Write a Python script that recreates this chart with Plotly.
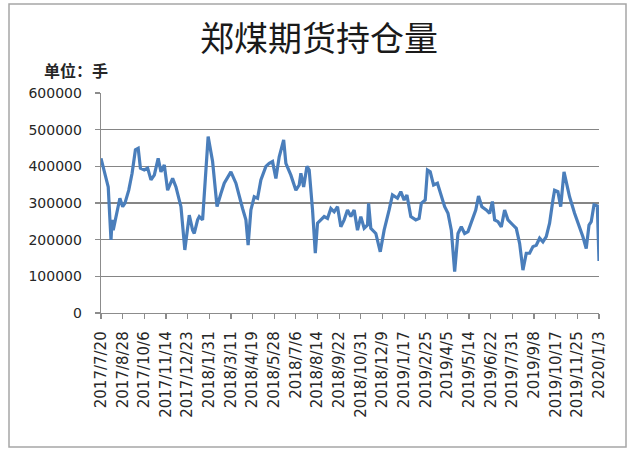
import plotly.graph_objects as go
import pandas as pd

# ---- data ----
dates = [
    "2017-07-20", "2017-07-25", "2017-08-02", "2017-08-07", "2017-08-09", "2017-08-11", "2017-08-18", "2017-08-23", "2017-08-28", "2017-09-01",
    "2017-09-08", "2017-09-14", "2017-09-20", "2017-09-25", "2017-09-29", "2017-10-06", "2017-10-12", "2017-10-18", "2017-10-24", "2017-10-31",
    "2017-11-05", "2017-11-11", "2017-11-17", "2017-11-26", "2017-12-02", "2017-12-11", "2017-12-18", "2017-12-26", "2018-01-01", "2018-01-04",
    "2018-01-10", "2018-01-13", "2018-01-19", "2018-01-25", "2018-01-29", "2018-02-06", "2018-02-14", "2018-02-21", "2018-02-27", "2018-03-11",
    "2018-03-20", "2018-04-01", "2018-04-07", "2018-04-11", "2018-04-16", "2018-04-22", "2018-04-28", "2018-05-04", "2018-05-13", "2018-05-19",
    "2018-05-25", "2018-05-31", "2018-06-06", "2018-06-14", "2018-06-18", "2018-06-27", "2018-07-06", "2018-07-12", "2018-07-15", "2018-07-20",
    "2018-07-26", "2018-07-30", "2018-08-05", "2018-08-10", "2018-08-14", "2018-08-20", "2018-08-26", "2018-09-01", "2018-09-07", "2018-09-13",
    "2018-09-19", "2018-09-25", "2018-10-01", "2018-10-07", "2018-10-13", "2018-10-19", "2018-10-25", "2018-10-31", "2018-11-06", "2018-11-12",
    "2018-11-14", "2018-11-18", "2018-11-27", "2018-12-05", "2018-12-12", "2018-12-21", "2018-12-27", "2019-01-05", "2019-01-11", "2019-01-17",
    "2019-01-22", "2019-01-29", "2019-02-07", "2019-02-13", "2019-02-17", "2019-02-24", "2019-02-28", "2019-03-05", "2019-03-11", "2019-03-18",
    "2019-03-25", "2019-03-31", "2019-04-06", "2019-04-12", "2019-04-18", "2019-04-24", "2019-04-30", "2019-05-06", "2019-05-12", "2019-05-18",
    "2019-05-26", "2019-05-31", "2019-06-06", "2019-06-14", "2019-06-20", "2019-06-25", "2019-06-29", "2019-07-05", "2019-07-11", "2019-07-17",
    "2019-07-23", "2019-08-01", "2019-08-07", "2019-08-13", "2019-08-19", "2019-08-25", "2019-08-31", "2019-09-06", "2019-09-12", "2019-09-18",
    "2019-09-24", "2019-09-30", "2019-10-06", "2019-10-12", "2019-10-15", "2019-10-21", "2019-10-26", "2019-11-01", "2019-11-05", "2019-11-11",
    "2019-11-20", "2019-11-29", "2019-12-05", "2019-12-11", "2019-12-16", "2019-12-20", "2019-12-25", "2019-12-31", "2020-01-03",
]

open_interest = [
    422000, 395000, 344000, 199000, 254000, 226000, 281000, 313000, 290000, 299000,
    335000, 381000, 445000, 449000, 395000, 390000, 395000, 363000, 376000, 422000,
    385000, 404000, 335000, 367000, 344000, 290000, 172000, 267000, 226000, 217000,
    254000, 263000, 254000, 400000, 481000, 413000, 290000, 326000, 354000, 385000,
    354000, 285000, 254000, 185000, 281000, 317000, 313000, 363000, 400000, 408000,
    413000, 367000, 426000, 472000, 408000, 376000, 335000, 349000, 381000, 344000,
    400000, 390000, 281000, 163000, 245000, 254000, 263000, 258000, 285000, 276000,
    290000, 235000, 254000, 281000, 263000, 281000, 226000, 263000, 231000, 240000,
    299000, 231000, 217000, 167000, 226000, 281000, 322000, 313000, 331000, 308000,
    322000, 263000, 254000, 258000, 299000, 308000, 390000, 385000, 349000, 354000,
    317000, 290000, 272000, 226000, 113000, 217000, 235000, 217000, 222000, 245000,
    281000, 319000, 290000, 281000, 272000, 304000, 254000, 249000, 235000, 281000,
    254000, 240000, 231000, 190000, 117000, 163000, 163000, 181000, 185000, 204000,
    194000, 208000, 245000, 308000, 335000, 331000, 290000, 385000, 354000, 317000,
    272000, 235000, 208000, 176000, 240000, 249000, 295000, 292000, 142000,
]

tick_labels = [
    "2017/7/20", "2017/8/28", "2017/10/6", "2017/11/14", "2017/12/23", "2018/1/31",
    "2018/3/11", "2018/4/19", "2018/5/28", "2018/7/6", "2018/8/14", "2018/9/22",
    "2018/10/31", "2018/12/9", "2019/1/17", "2019/2/25", "2019/4/5", "2019/5/14",
    "2019/6/22", "2019/7/31", "2019/9/8", "2019/10/17", "2019/11/25", "2020/1/3",
]

y_ticks = [0, 100000, 200000, 300000, 400000, 500000, 600000]

title_text = "郑煤期货持仓量"
unit_text = "单位：手"

# ---- layout geometry (pixels) ----
W, H = 632, 450
ML, MR, MT, MB = 101, 33, 93, 137
PW, PH = W - ML - MR, H - MT - MB


def px(xp):
    return (xp - ML) / PW


def py(yp):
    return (H - MB - yp) / PH


tick_dates = pd.to_datetime(tick_labels, format="%Y/%m/%d")

fig = go.Figure()
fig.add_trace(go.Scatter(
    x=pd.to_datetime(dates), y=open_interest, mode="lines",
    line=dict(color="#4A7EBB", width=3.2), hoverinfo="skip", showlegend=False,
))

axis_col = "#8c8c8c"
xtick_font = dict(family="DejaVu Sans", size=15, color="#262626")
ytick_font = dict(family="DejaVu Sans", size=14, color="#262626")

fig.update_layout(
    width=W, height=H,
    margin=dict(l=ML, r=MR, t=MT, b=MB, pad=0),
    paper_bgcolor="white", plot_bgcolor="white",
    xaxis=dict(
        type="date", range=[tick_dates[0], tick_dates[-1]],
        tickmode="array", tickvals=tick_dates, ticktext=tick_labels,
        tickangle=-90, ticks="outside", ticklen=5, tickcolor=axis_col, tickwidth=1.2,
        showline=True, linecolor=axis_col, linewidth=1.3,
        showgrid=False, zeroline=False, tickfont=xtick_font, ticklabelstandoff=6,
    ),
    yaxis=dict(
        range=[0, 600000], tickmode="array", tickvals=y_ticks,
        ticktext=[str(v) for v in y_ticks],
        ticks="outside", ticklen=5, tickcolor=axis_col, tickwidth=1.2,
        showline=True, linecolor=axis_col, linewidth=1.3,
        showgrid=True, gridcolor="#858585", gridwidth=1.4, griddash="solid",
        zeroline=False, tickfont=ytick_font, ticklabelstandoff=10,
    ),
    shapes=[dict(
        type="rect", xref="paper", yref="paper",
        x0=px(9), x1=px(626), y0=py(447), y1=py(4),
        line=dict(color="#a6a6a6", width=1.5), fillcolor="rgba(0,0,0,0)", layer="above",
    )],
    annotations=[
        dict(text=title_text, xref="paper", yref="paper", x=px(319), y=py(37),
             xanchor="center", yanchor="middle", showarrow=False,
             font=dict(family="Noto Sans CJK SC", size=34, color="#1a1a1a")),
        dict(text="<b>" + unit_text + "</b>", xref="paper", yref="paper", x=px(42), y=py(70),
             xanchor="left", yanchor="middle", showarrow=False,
             font=dict(family="Noto Sans CJK SC", size=16, color="#262626")),
    ],
)

fig.write_html("out.html", config={"displayModeBar": False, "staticPlot": True},
               post_script="document.body.style.margin='0';")
